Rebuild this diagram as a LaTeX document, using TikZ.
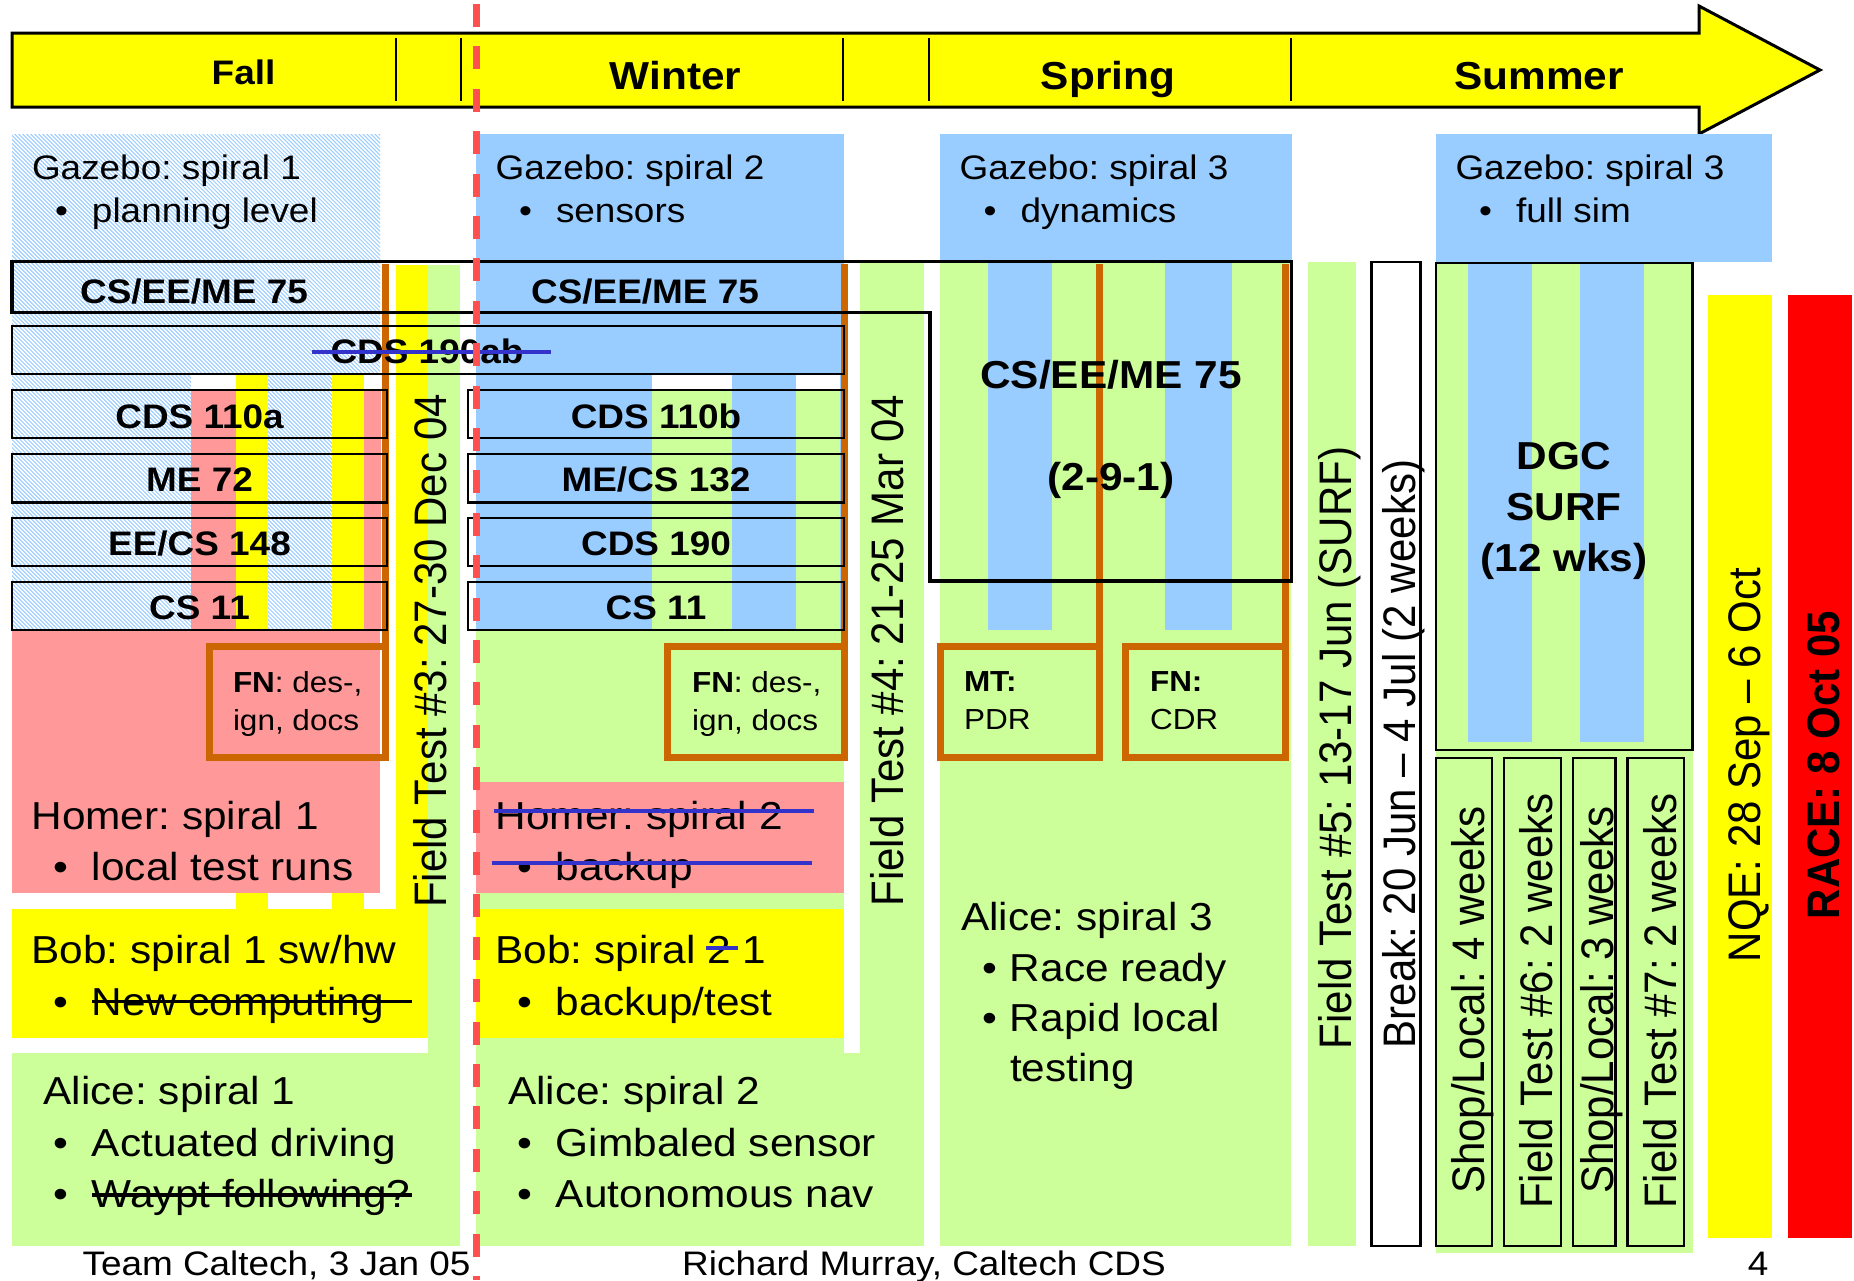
\documentclass[tikz,border=0pt]{standalone}
\usepackage{fontspec}
\setmainfont{Liberation Sans}
\usetikzlibrary{patterns.meta}
\frenchspacing
\definecolor{yel}{RGB}{255,255,0}
\definecolor{lblue}{RGB}{153,204,255}
\definecolor{lgreen}{RGB}{204,255,153}
\definecolor{pinkc}{RGB}{255,153,153}
\definecolor{brownc}{RGB}{204,102,0}
\definecolor{dashred}{RGB}{255,80,80}
\definecolor{strikeblue}{RGB}{51,51,204}
\definecolor{racered}{RGB}{255,0,0}
\newcommand\fsA{\fontsize{39pt}{47pt}\selectfont\frenchspacing}
\newcommand\fsB{\fontsize{34pt}{41pt}\selectfont\frenchspacing}
\newcommand\fsC{\fontsize{29pt}{35pt}\selectfont\frenchspacing}
\newcommand\fsR{\fontsize{42pt}{50pt}\selectfont\frenchspacing}
\newcommand\bul[1]{\llap{\textbullet\hspace{#1}}}
\tikzset{
  tx/.style={inner sep=0pt, outer sep=0pt, xscale=1.086},
  lw/.style={tx, anchor=base west},
  cw/.style={tx, anchor=base},
  rt/.style={inner sep=0pt, xscale=1.086, rotate=90, anchor=base, font=\fsR},
  rowbox/.style={draw=black, line width=2.5pt},
  brownline/.style={draw=brownc, line width=7pt},
  strk/.style={line width=3.5pt},
  hatch/.style={pattern={Lines[angle=-45,distance=2.83pt,line width=1pt]}, pattern color=lblue}
}
\begin{document}
\begin{tikzpicture}[x=1pt,y=-1pt]
\useasboundingbox (0,0) rectangle (1854,1280);
\fill[white] (0,0) rectangle (1854,1280);

% ---------------- timeline arrow ----------------
\draw[line width=3pt, fill=yel, line join=miter] (12,33) -- (1699,33) -- (1699,6) -- (1820,70) -- (1699,134) -- (1699,107) -- (12,107) -- cycle;
\foreach \xx in {396,460.5,843,929,1291} \draw[line width=2pt] (\xx,38) -- (\xx,101);

% ---------------- Fall column ----------------
\fill[white] (12,134) rectangle (380,630);
\fill[hatch] (12,134) rectangle (380,630);
\fill[white] (191,374) rectangle (236,390);
\fill[white] (364,374) rectangle (381,390);
\fill[pinkc] (191,390) rectangle (236,630);
\fill[pinkc] (364,390) rectangle (381,630);
\fill[yel] (236,374) rectangle (268,909);
\fill[yel] (332,374) rectangle (364,909);
\fill[pinkc] (12,630) rectangle (380,893);
\fill[yel] (12,909) rectangle (428,1038);
\fill[yel] (396,265) rectangle (428,909);
\fill[lgreen] (428,265) rectangle (460,1246);
\fill[lgreen] (12,1053) rectangle (460,1246);

% ---------------- Winter column ----------------
\fill[lblue] (476,134) rectangle (844,630);
\fill[white] (652,374) rectangle (732,390);
\fill[white] (796,374) rectangle (840,390);
\fill[lgreen] (652,390) rectangle (732,630);
\fill[lgreen] (796,390) rectangle (840,630);
\fill[lgreen] (476,630) rectangle (844,1246);
\fill[pinkc] (476,782) rectangle (844,893);
\fill[yel] (476,909) rectangle (844,1038);
\fill[lgreen] (860,263) rectangle (924,1246);
\fill[lgreen] (476,1053) rectangle (924,1246);

% ---------------- Spring column ----------------
\fill[lblue] (940,134) rectangle (1292,261);
\fill[lgreen] (940,261) rectangle (1291,1246);
\fill[lblue] (988,263) rectangle (1052,630);
\fill[lblue] (1165,263) rectangle (1232,630);

% ---------------- Summer ----------------
\fill[lgreen] (1307.5,262) rectangle (1356,1246);
\draw[line width=2.5pt, fill=white] (1371.5,262) rectangle (1420.5,1246);
\fill[lblue] (1436,134) rectangle (1771.5,262);
\fill[lgreen] (1436,262) rectangle (1692.5,1253);
\fill[lblue] (1468,263) rectangle (1532,742);
\fill[lblue] (1580,263) rectangle (1644,742);
\draw[line width=2.5pt] (1436,263) rectangle (1692.5,750);
\draw[line width=2.5pt] (1436,758) rectangle (1492,1246);
\draw[line width=2.5pt] (1504,758) rectangle (1561,1246);
\draw[line width=2.5pt] (1573,758) rectangle (1615.5,1246);
\draw[line width=2.5pt] (1627.5,758) rectangle (1684,1246);
\fill[yel] (1708,295) rectangle (1772,1238);
\fill[racered] (1788,295) rectangle (1852,1238);

% ---------------- brown milestone lines and boxes ----------------
\draw[brownline] (385.5,264) -- (385.5,646.5);
\draw[brownline] (209.5,646.5) rectangle (385.5,757.5);
\draw[brownline] (844,264) -- (844,646.5);
\draw[brownline] (667.5,646.5) rectangle (844.5,757.5);
\draw[brownline] (1099.5,264) -- (1099.5,646.5);
\draw[brownline] (940,646.5) rectangle (1099.5,757.5);
\draw[brownline] (1285.5,264) -- (1285.5,646.5);
\draw[brownline] (1125,646.5) rectangle (1285.5,757.5);

% ---------------- course boxes ----------------
\draw[line width=3.5pt, line join=miter] (12,261.7) -- (1291.5,261.7) -- (1291.5,581) -- (930,581) -- (930,312.5) -- (12,312.5) -- cycle;
\draw[rowbox] (12,326) rectangle (844,374);
\foreach \ya/\yb in {390/438, 454/502.5, 518/566, 582/630} {
  \draw[rowbox] (12,\ya) rectangle (387,\yb);
  \draw[rowbox] (468,\ya) rectangle (844,\yb);
}

% ---------------- timeline labels ----------------
\node[cw, font=\fsB\bfseries] (fall) at (243.5,84.5) {Fall};
\node[cw, font=\fsA\bfseries] (winter) at (675.5,89) {Winter};
\node[cw, font=\fsA\bfseries] (spring) at (1108,89) {Spring};
\node[cw, font=\fsA\bfseries] (summer) at (1539,89) {Summer};

% ---------------- Gazebo ----------------
\node[lw, font=\fsB] (gz1a) at (32,179.5) {Gazebo: spiral 1};
\node[lw, font=\fsB] (gz1b) at (92,222) {\bul{22pt}planning level};
\node[lw, font=\fsB] (gz2a) at (495.6,179.5) {Gazebo: spiral 2};
\node[lw, font=\fsB] (gz2b) at (556,222) {\bul{22pt}sensors};
\node[lw, font=\fsB] (gz3a) at (959.6,179.5) {Gazebo: spiral 3};
\node[lw, font=\fsB] (gz3b) at (1020.5,222) {\bul{22pt}dynamics};
\node[lw, font=\fsB] (gz4a) at (1455.5,179.5) {Gazebo: spiral 3};
\node[lw, font=\fsB] (gz4b) at (1516,222) {\bul{22pt}full sim};

% ---------------- course labels ----------------
\node[cw, font=\fsB\bfseries] (c75a) at (194,303) {CS/EE/ME 75};
\node[cw, font=\fsB\bfseries] (c75b) at (645,303) {CS/EE/ME 75};
\node[cw, font=\fsB\bfseries] (c190ab) at (427,363) {CDS 190ab};
\node[cw, font=\fsB\bfseries] (c110a) at (199.5,428) {CDS 110a};
\node[cw, font=\fsB\bfseries] (c72) at (199.5,491.5) {ME 72};
\node[cw, font=\fsB\bfseries] (c148) at (199.5,555) {EE/CS 148};
\node[cw, font=\fsB\bfseries] (c11a) at (199.5,619) {CS 11};
\node[cw, font=\fsB\bfseries] (c110b) at (656,428) {CDS 110b};
\node[cw, font=\fsB\bfseries] (c132) at (656,491.5) {ME/CS 132};
\node[cw, font=\fsB\bfseries] (c190) at (656,555) {CDS 190};
\node[cw, font=\fsB\bfseries] (c11b) at (656,619) {CS 11};
\node[cw, font=\fsA\bfseries] (c75c) at (1111,388) {CS/EE/ME 75};
\node[cw, font=\fsA\bfseries] (c75d) at (1111,490) {(2-9-1)};
\node[cw, font=\fsA\bfseries] (dgc1) at (1564,469) {DGC};
\node[cw, font=\fsA\bfseries] (dgc2) at (1564,520) {SURF};
\node[cw, font=\fsA\bfseries] (dgc3) at (1564,571) {(12 wks)};

% ---------------- milestone texts ----------------
\node[lw, font=\fsC] (fn1a) at (233,692) {\textbf{FN}: des-,};
\node[lw, font=\fsC] (fn1b) at (233,730) {ign, docs};
\node[lw, font=\fsC] (fn2a) at (692,692) {\textbf{FN}: des-,};
\node[lw, font=\fsC] (fn2b) at (692,730) {ign, docs};
\node[lw, font=\fsC] (mta) at (964,691) {\textbf{MT:}};
\node[lw, font=\fsC] (mtb) at (964,729) {PDR};
\node[lw, font=\fsC] (fn3a) at (1150,691) {\textbf{FN:}};
\node[lw, font=\fsC] (fn3b) at (1150,729) {CDR};

% ---------------- Homer / Bob / Alice ----------------
\node[lw, font=\fsA] (ho1a) at (31.5,829) {Homer: spiral 1};
\node[lw, font=\fsA] (ho1b) at (92,880) {\bul{22pt}local test runs};
\node[lw, font=\fsA] (ho2a) at (495.6,829) {Homer: spiral 2};
\node[lw, font=\fsA] (ho2b) at (556,880) {\bul{22pt}backup};
\node[lw, font=\fsA] (bo1a) at (31.5,963) {Bob: spiral 1 sw/hw};
\node[lw, font=\fsA] (bo1b) at (92,1015) {\bul{22pt}New computing};
\node[lw, font=\fsA] (bo2a) at (495.6,963) {Bob: spiral 2 1};
\node[lw, font=\fsA] (bo2b) at (556,1015) {\bul{22pt}backup/test};
\node[lw, font=\fsA] (al1a) at (43.6,1104) {Alice: spiral 1};
\node[lw, font=\fsA] (al1b) at (92,1156) {\bul{22pt}Actuated driving};
\node[lw, font=\fsA] (al1c) at (92,1207) {\bul{22pt}Waypt following?};
\node[lw, font=\fsA] (al2a) at (508,1104) {Alice: spiral 2};
\node[lw, font=\fsA] (al2b) at (556,1156) {\bul{22pt}Gimbaled sensor};
\node[lw, font=\fsA] (al2c) at (556,1207) {\bul{22pt}Autonomous nav};
\node[lw, font=\fsA] (al3a) at (961,930) {Alice: spiral 3};
\node[lw, font=\fsA] (al3b) at (1010,981.6) {\bul{11.6pt}Race ready};
\node[lw, font=\fsA] (al3c) at (1010,1031.5) {\bul{11.6pt}Rapid local};
\node[lw, font=\fsA] (al3d) at (1010,1081) {testing};

% ---------------- vertical texts ----------------
\node[rt] (ft3) at (446,651) {Field Test \#3: 27-30 Dec 04};
\node[rt] (ft4) at (903,651) {Field Test \#4: 21-25 Mar 04};
\node[rt] (ft5) at (1351,748) {Field Test \#5: 13-17 Jun (SURF)};
\node[rt] (brk) at (1415,754) {Break: 20 Jun – 4 Jul (2 weeks)};
\node[rt] (sh4) at (1484,1000) {Shop/Local: 4 weeks};
\node[rt] (ft6) at (1552,1001) {Field Test \#6: 2 weeks};
\node[rt] (sh3) at (1613,1000) {Shop/Local: 3 weeks};
\node[rt] (ft7) at (1676,1001) {Field Test \#7: 2 weeks};
\node[rt] (nqe) at (1760,765) {NQE: 28 Sep – 6 Oct};
\node[rt, font=\fsR\bfseries] (race) at (1839,765) {RACE: 8 Oct 05};

% ---------------- footer ----------------
\node[cw, font=\fsB] (foot1) at (276.5,1275) {Team Caltech, 3 Jan 05};
\node[cw, font=\fsB] (foot2) at (924,1275) {Richard Murray, Caltech CDS};
\node[cw, font=\fsB] (foot3) at (1758,1275) {4};

% ---------------- strike-through marks ----------------
\draw[strikeblue, line width=4pt] (312,351.7) -- (551,351.7);
\draw[strikeblue, strk] (494,811) -- (814,811);
\draw[strikeblue, strk] (492,863) -- (812,863);
\draw[strikeblue, strk] (706,948) -- (738,948);
\draw[black, strk] (92,1001.7) -- (412,1001.7);
\draw[black, strk] (92,1195) -- (412,1195);

% ---------------- red dashed "now" line ----------------
\draw[dashred, line width=6.5pt, dash pattern=on 23pt off 19.4pt] (476.5,4) -- (476.5,1280);
\end{tikzpicture}
\end{document}
